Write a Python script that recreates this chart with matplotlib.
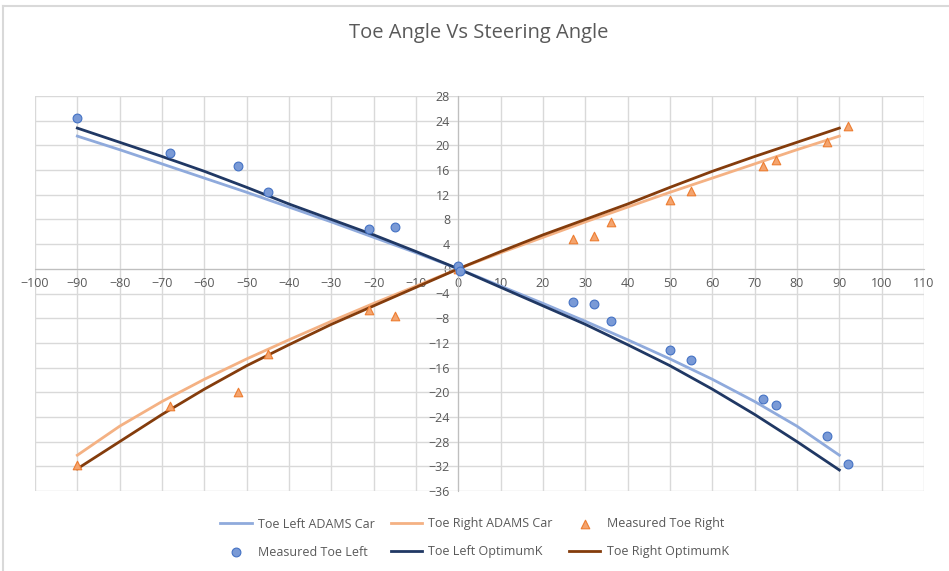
import matplotlib
matplotlib.use("Agg")
import matplotlib.pyplot as plt
from matplotlib.lines import Line2D
import numpy as np

# steering angle grid for the simulated curves (deg)
steer = [-90, -80, -70, -60, -50, -40, -30, -20, -10, 0,
         10, 20, 30, 40, 50, 60, 70, 80, 90]
toe_left_adams = [21.5, 19.3, 17.0, 14.7, 12.4, 10.0, 7.6, 5.1, 2.6, 0.0,
                  -2.8, -5.6, -8.5, -11.5, -14.6, -17.9, -21.5, -25.5, -30.2]
toe_left_optk = [22.8, 20.5, 18.2, 15.8, 13.2, 10.5, 8.0, 5.5, 2.8, 0.0,
                 -3.0, -6.0, -9.0, -12.3, -15.7, -19.5, -23.6, -28.0, -32.6]
toe_right_adams = [-30.2, -25.5, -21.5, -17.9, -14.6, -11.5, -8.5, -5.6, -2.8, 0.0,
                   2.6, 5.1, 7.6, 10.0, 12.4, 14.7, 17.0, 19.3, 21.5]
toe_right_optk = [-32.4, -28.0, -23.6, -19.5, -15.7, -12.3, -9.0, -6.0, -3.0, 0.0,
                  2.8, 5.5, 8.0, 10.5, 13.2, 15.8, 18.2, 20.5, 22.8]

# measured points
meas_left_x = [-90, -68, -52, -45, -21, -15, 0, 0.5, 27, 32, 36, 50, 55, 72, 75, 87, 92]
meas_left_y = [24.5, 18.8, 16.7, 12.5, 6.4, 6.8, 0.5, -0.3, -5.3, -5.7, -8.4,
               -13.1, -14.7, -21.1, -22.0, -27.1, -31.6]
meas_right_x = [-90, -68, -52, -45, -21, -15, 0, 27, 32, 36, 50, 55, 72, 75, 87, 92]
meas_right_y = [-31.8, -22.3, -19.9, -13.8, -6.6, -7.6, 0.0, 4.9, 5.3, 7.6,
                11.2, 12.6, 16.7, 17.7, 20.6, 23.2]

TXT = "#595959"
FONT = "Open Sans"
plt.rcParams["font.family"] = [FONT, "DejaVu Sans"]

fig = plt.figure(figsize=(9.49, 5.71), dpi=100)
ax = fig.add_axes([35 / 949, 1 - 491 / 571, (924 - 35) / 949, (491 - 96) / 571])

l_adams, = ax.plot(steer, toe_left_adams, color="#8faadc", lw=2, label="Toe Left ADAMS Car", zorder=3)
r_adams, = ax.plot(steer, toe_right_adams, color="#f4b183", lw=2, label="Toe Right ADAMS Car", zorder=3)
m_right = ax.scatter(meas_right_x, meas_right_y, marker="^", s=38, color="#f4a46e",
                     edgecolors="#ed7d31", linewidths=0.8, label="Measured Toe Right", zorder=4)
m_left = ax.scatter(meas_left_x, meas_left_y, marker="o", s=40, color="#7a9ad6",
                    edgecolors="#4472c4", linewidths=0.8, label="Measured Toe Left", zorder=4)
l_optk, = ax.plot(steer, toe_left_optk, color="#203864", lw=2, label="Toe Left OptimumK", zorder=3)
r_optk, = ax.plot(steer, toe_right_optk, color="#843c0c", lw=2, label="Toe Right OptimumK", zorder=3)

ax.set_xlim(-100, 110)
ax.set_ylim(-36, 28)
ax.set_xticks(np.arange(-100, 111, 10))
ax.set_yticks(np.arange(-36, 29, 4))
ax.grid(True, color="#d9d9d9", lw=1)
ax.set_axisbelow(True)
for s in ("top", "right"):
    ax.spines[s].set_visible(False)
ax.spines["bottom"].set_position("zero")
ax.spines["left"].set_position("zero")
for s in ("bottom", "left"):
    ax.spines[s].set_color("#bfbfbf")
    ax.spines[s].set_zorder(2)
ax.tick_params(length=0, labelsize=9, labelcolor=TXT, pad=6)

fig.text(0.504, 1 - 33 / 571, "Toe Angle Vs Steering Angle", ha="center", va="center",
         fontsize=14.5, color=TXT)

handles = [l_adams, m_left, r_adams, l_optk, m_right, r_optk]
fig.legend(handles=handles, labels=[h.get_label() for h in handles], ncol=3,
           loc="center", bbox_to_anchor=(0.5, 1 - 538 / 571), frameon=False,
           fontsize=9, labelcolor=TXT, handlelength=2.5, columnspacing=1.3,
           handletextpad=0.5, labelspacing=1.2)

# chart border (only top and left visible in the crop)
fig.add_artist(Line2D([3 / 949, 3 / 949], [0, 1 - 6 / 571], color="#d9d9d9", lw=1.5,
                      transform=fig.transFigure))
fig.add_artist(Line2D([3 / 949, 1], [1 - 6 / 571, 1 - 6 / 571], color="#d9d9d9", lw=1.5,
                      transform=fig.transFigure))

fig.savefig("out.png", dpi=100)
